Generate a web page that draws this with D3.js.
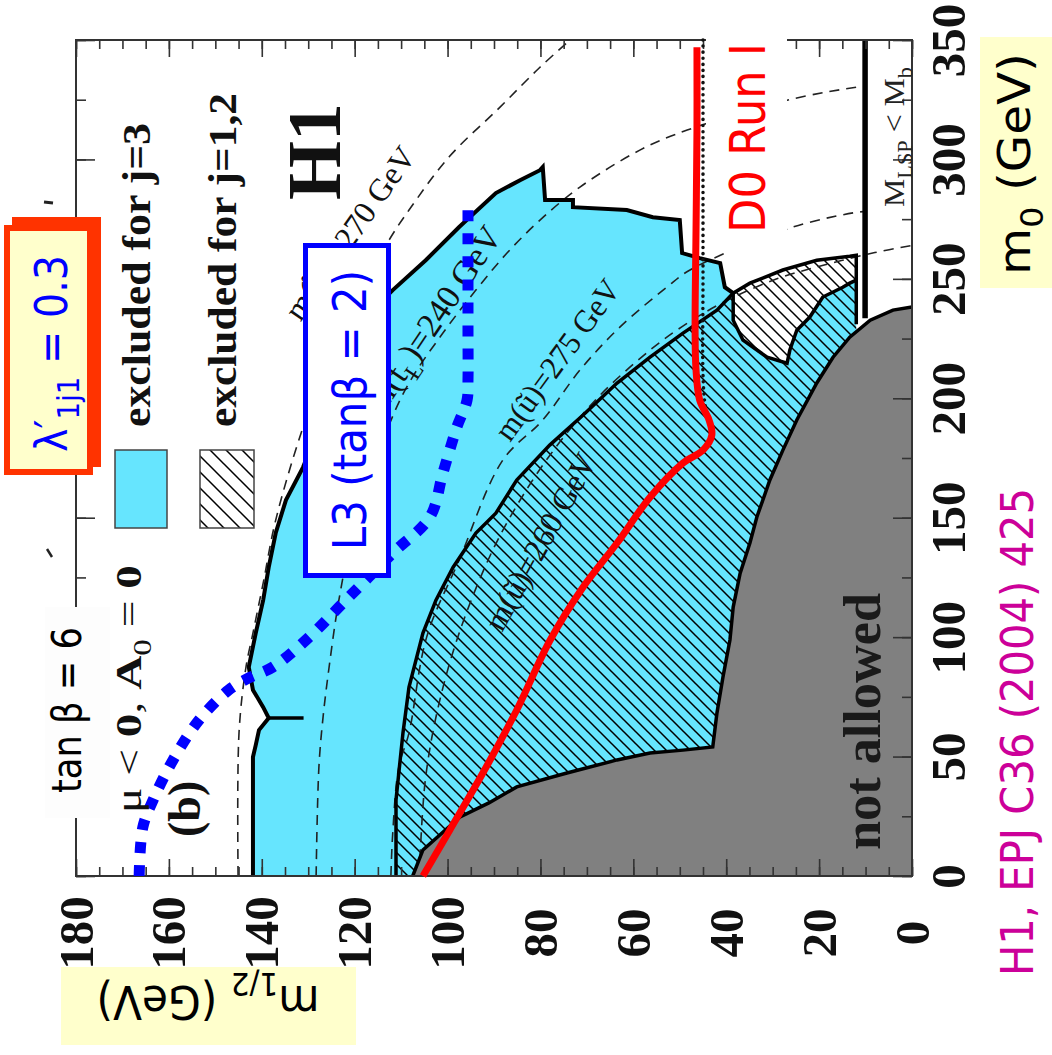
<!DOCTYPE html>
<html><head><meta charset="utf-8">
<script src="https://cdn.jsdelivr.net/npm/d3@7"></script>
<style>body{margin:0;background:#fff}svg{display:block}</style>
</head><body>
<script>
// ---------- data (m1/2 [GeV], m0 [GeV]) ----------
const m12Ticks = [0,20,40,60,80,100,120,140,160,180];
const m0Ticks = [0,50,100,150,200,250,300,350];
const m12Minor = d3.range(0,181,5);
const m0Minor = d3.range(0,351,25);

const notAllowed = [[107.5,0],[105.3,10.9],[97.3,24.7],[91.1,30.6],[85.1,37.3],[74.3,43.1],[63.5,48.6],[56.4,51.5],[49.3,52.7],[42.9,54.0],[42.0,68.2],[40.7,83.3],[39.2,98.8],[38.5,112.6],[37.0,126.8],[34.9,139.4],[33.4,150.3],[30.6,165.8],[27.8,178.3],[24.8,190.9],[20.5,206.4],[17.0,217.2],[13.4,225.6],[9.0,232.7],[4.1,236.9],[0,238.2]];

const excludedJ3 = [[141.9,0],[141.9,49.8],[141.3,54.8],[140.6,61.1],[138.5,66.1],[139.7,70.7],[141.9,77.9],[142.8,87.5],[141.3,101.7],[139.7,115.5],[138.5,129.3],[137.0,143.6],[134.8,157.4],[131.1,171.2],[126.8,192.1],[122.5,213.1],[117.6,234.0],[111.8,245.3],[104.7,257.8],[97.5,271.7],[89.6,285.9],[84.4,291.3],[80.1,295.5],[79.5,296.8],[79.0,283.0],[73.0,283.0],[73.0,280.0],[61.4,278.8],[55.8,275.8],[50.0,274.6],[49.5,260.8],[45.7,258.7],[41.3,256.6],[40.3,246.5],[38.5,244.0]];

const onlyJ12Lower = [[38.5,244.0],[38.5,232.7],[36.4,224.4],[31.2,217.2],[26.9,214.7],[26.3,220.2],[24.8,228.5],[22.0,234.0],[19.2,242.4],[14.9,246.5],[13.4,248.2],[12.0,249.5]];

const excludedJ12 = [[111.1,0],[111.1,31.8],[109.6,59.9],[108.3,79.1],[105.3,101.7],[102.5,115.5],[98.8,129.3],[93.9,143.6],[89.6,151.9],[85.1,165.8],[78.0,180.4],[70.8,193.0],[63.5,206.4],[56.4,217.2],[49.3,227.3],[42.0,236.9],[38.5,244.0],[34.9,248.2],[27.8,253.7],[20.5,257.8],[13.4,259.5],[12.0,259.9],[12.0,231.0]];

const spike = [[138.5,66.1],[131.0,66.1]];
const lspLine = [[10.1,350],[10.1,233.5]];

const contour270 = [[145.1,0],[144.9,60],[143.4,87.5],[141.9,101.7],[139.7,122.6],[137.0,149.0],[131.1,187.9],[123.2,228.5],[112.6,266.2],[108.3,278.8],[99.7,301.0],[88.7,321.9],[80.1,338.6],[73.6,350]];
const contour240 = [[128.3,0],[127.7,45.6],[126.8,66.6],[125.5,87.5],[123.4,115.5],[120.4,143.6],[113.3,185.4],[108.3,206.4],[101.0,227.3],[93.9,245.3],[87.2,260.8],[80.1,274.6],[71.5,288.4],[58.6,303.9],[48.4,312.3],[26.9,324.8],[11.8,330.3],[10.1,330.6]];
const contour275 = [[112.2,0],[111.8,18.0],[110.5,45.6],[108.3,59.9],[104.5,100],[97.5,132.3],[88.1,174.1],[79.5,190.9],[71.5,211.8],[62.9,229.8],[52.8,246.5],[47.8,253.7],[25.6,271.7],[11.8,277.9],[10.1,278.2]];
const contour260 = [[106.1,0],[104.8,40],[102.1,70],[97.8,100],[91.8,130],[86.6,150],[78.4,175],[67.8,200],[56.5,220],[49.5,230],[40.8,240],[29.1,250],[18.5,256],[8,261],[0,264]];

const d0RunI = [[105.3,0],[99.5,19.3],[92.4,43.1],[85.1,69.5],[77.9,98.8],[70.8,121.0],[63.5,139.4],[56.4,158.6],[49.3,172.9],[45.0,178.3],[43.1,184.6],[43.7,190.9],[45.7,199.2],[46.5,211.8],[46.7,228.5],[46.5,270.4],[46.3,312.3],[46.3,347.0]];
const d0Dotted = [[45.0,350],[45.0,300],[45.0,250],[45.0,210],[44.6,198],[43.8,190]];
const l3Limit = [[166.4,0],[165.6,20.5],[163.4,31.8],[159.1,48.6],[153.5,65.3],[147.1,77.9],[142.8,82.9],[137.6,87.5],[129.8,100.0],[122.5,114.3],[111.8,135.2],[103.8,150.3],[101.0,168.7],[98.0,187.9],[95.8,199.2],[95.6,207.6],[95.6,228.5],[95.6,278.8]];

// ---------- layout ----------
const W = 1052, H = 1055;
const x = d3.scaleLinear().domain([0,180]).range([912,76]);   // m1/2
const y = d3.scaleLinear().domain([0,350]).range([876,40]);   // m0
const CYAN = '#66e5fe', GRAY = '#808080';
const SERIF = '"Liberation Serif","Times New Roman",serif';
const COMIC = '"DejaVu Sans",sans-serif';

const svg = d3.select('body').append('svg').attr('width',W).attr('height',H);
const defs = svg.append('defs');
defs.append('clipPath').attr('id','frame').append('rect')
  .attr('x',76).attr('y',40).attr('width',836).attr('height',836);
const hp = defs.append('pattern').attr('id','hatch').attr('patternUnits','userSpaceOnUse')
  .attr('width',12).attr('height',12);
hp.append('path').attr('d','M-1,-1L13,13M11,-1L13,1M-1,11L1,13').attr('stroke','#000').attr('stroke-width',1.5);
const hp2 = defs.append('pattern').attr('id','hatchLeg').attr('patternUnits','userSpaceOnUse')
  .attr('width',16).attr('height',16);
hp2.append('path').attr('d','M-1,-1L17,17M15,-1L17,1M-1,15L1,17').attr('stroke','#000').attr('stroke-width',1.5);

const lin = d3.line().x(d=>x(d[0])).y(d=>y(d[1]));
const smooth = d3.line().x(d=>x(d[0])).y(d=>y(d[1])).curve(d3.curveCatmullRom.alpha(0.5));

const plot = svg.append('g').attr('clip-path','url(#frame)');
// cyan j=3 exclusion
plot.append('path').attr('d', lin(excludedJ3.concat(onlyJ12Lower.slice(1), [[12.0,0]])) + 'Z').attr('fill',CYAN);
// hatched j=1,2 exclusion
plot.append('path').attr('d', lin(excludedJ12.concat([[12.0,0]])) + 'Z').attr('fill','url(#hatch)');
// dashed mass contours
[contour270, contour240, contour275, contour260].forEach(c=>{
  plot.append('path').attr('d', smooth(c)).attr('fill','none').attr('stroke','#222')
    .attr('stroke-width',1.6).attr('stroke-dasharray','10,7');
});
// not allowed
plot.append('path').attr('d', lin(notAllowed.concat([[0,0]])) + 'Z').attr('fill',GRAY);
// outlines
const outl = (d,w)=>plot.append('path').attr('d',lin(d)).attr('fill','none').attr('stroke','#000')
  .attr('stroke-width',w).attr('stroke-linejoin','miter');
outl(excludedJ3,4); outl(onlyJ12Lower,3.5); outl(excludedJ12,3.5); outl(notAllowed,3.5);
outl(spike,3.5);
plot.append('path').attr('d',lin(lspLine)).attr('stroke','#000').attr('stroke-width',5.5);

// ---------- frame & axes ----------
svg.append('rect').attr('x',76).attr('y',40).attr('width',836).attr('height',836)
  .attr('fill','none').attr('stroke','#333').attr('stroke-width',2);
function axisG(axis, tx, ty){
  const g = svg.append('g').attr('transform',`translate(${tx},${ty})`).call(axis);
  g.select('.domain').remove();
  g.selectAll('line').attr('stroke','#333').attr('stroke-width',1.6);
  g.attr('font-family',SERIF).attr('font-size',49).attr('font-weight','bold');
  return g;
}
axisG(d3.axisBottom(x).tickValues(m12Minor).tickSize(-9).tickFormat(''),0,876);
axisG(d3.axisTop(x).tickValues(m12Minor).tickSize(-9).tickFormat(''),0,40);
axisG(d3.axisTop(x).tickValues(m12Ticks).tickSize(-17).tickFormat(''),0,40);
axisG(d3.axisLeft(y).tickValues(m0Minor).tickSize(-10).tickFormat(''),76,0);
axisG(d3.axisLeft(y).tickValues(m0Ticks).tickSize(-19).tickFormat(''),76,0);
axisG(d3.axisRight(y).tickValues(m0Minor).tickSize(-10).tickFormat(''),912,0);
const gb = axisG(d3.axisBottom(x).tickValues(m12Ticks).tickSize(-17),0,876);
gb.selectAll('text').attr('x',0).attr('y',0).attr('dy',0).attr('fill','#111')
  .attr('text-anchor','middle').attr('transform','translate(16,57) rotate(-90)');
const gr = axisG(d3.axisRight(y).tickValues(m0Ticks).tickSize(-19),912,0);
gr.selectAll('text').attr('x',0).attr('y',0).attr('dy',0).attr('fill','#111')
  .attr('text-anchor','middle').attr('transform','translate(53,0) rotate(-90)');

// ---------- text helper (rotated, with subscripts) ----------
function subText(tx,ty,ang,opts){
  const t = svg.append('text').attr('transform',`translate(${tx},${ty}) rotate(${ang})`)
    .attr('font-family',opts.family||SERIF).attr('font-size',opts.size)
    .attr('font-weight',opts.weight||'normal').attr('fill',opts.fill||'#111')
    .attr('text-anchor',opts.anchor||'start');
  if(opts.len) t.attr('textLength',opts.len).attr('lengthAdjust','spacingAndGlyphs');
  const fs = opts.size; let shift = 0;
  opts.parts.forEach(p=>{
    const s = t.append('tspan').text(p.t);
    const target = p.sub ? fs*0.28 : 0;
    if(target!==shift){ s.attr('dy', target-shift); shift = target; }
    if(p.sub) s.attr('font-size', fs*0.7);
    if(p.w) s.attr('font-weight',p.w);
  });
  return t;
}
// contour labels
subText(417,156,-55,{size:32,anchor:'end',parts:[{t:'m(t\u0303'},{t:'L',sub:1},{t:')=270 GeV'}]});
subText(503,236,-56,{size:34,anchor:'end',parts:[{t:'m(t\u0303'},{t:'L',sub:1},{t:')=240 GeV'}]});
subText(510,443,-54,{size:32,len:190,parts:[{t:'m(\u0169)=275 GeV'}]});
subText(502,633,-61,{size:32,len:197,parts:[{t:'m(\u0169)=260 GeV'}]});

// ---------- lines ----------
svg.append('rect').attr('x',706).attr('y',30).attr('width',81).attr('height',222).attr('fill','#fff');
svg.append('path').attr('d',smooth(d0Dotted)).attr('fill','none').attr('stroke','#111')
  .attr('stroke-width',3.5).attr('stroke-dasharray','0.1,6').attr('stroke-linecap','round');
svg.append('path').attr('d',smooth(d0RunI)).attr('fill','none').attr('stroke','#ff0000')
  .attr('stroke-width',7).attr('stroke-linejoin','round');
svg.append('path').attr('d',smooth(l3Limit)).attr('fill','none').attr('stroke','#0000ff')
  .attr('stroke-width',11).attr('stroke-dasharray','11,12');

// ---------- legend and annotations ----------
svg.append('rect').attr('x',115).attr('y',450).attr('width',52).attr('height',78)
  .attr('fill',CYAN).attr('stroke','#444').attr('stroke-width',1.5);
svg.append('rect').attr('x',200).attr('y',450).attr('width',54).attr('height',78)
  .attr('fill','#fff').attr('stroke','none');
svg.append('rect').attr('x',200).attr('y',450).attr('width',54).attr('height',78)
  .attr('fill','url(#hatchLeg)').attr('stroke','#444').attr('stroke-width',1.5);
subText(150,427,-90,{size:40,weight:'bold',len:304,parts:[{t:'excluded for j=3'}]});
subText(236,427,-90,{size:40,weight:'bold',len:334,parts:[{t:'excluded for j=1,2'}]});
subText(340,200,-90,{size:76,weight:'bold',parts:[{t:'H1'}]});
subText(200,837,-90,{size:46,weight:'bold',parts:[{t:'(b)'}]});
subText(141,813,-90,{size:36,len:248,parts:[{t:'\u03bc < '},{t:'0',w:'bold'},{t:', '},{t:'A',w:'bold'},{t:'0',sub:1},{t:' = '},{t:'0',w:'bold'}]});
svg.append('rect').attr('x',45).attr('y',607).attr('width',65).attr('height',211).attr('fill','#fdfdfd');
subText(81,793,-90,{size:40,family:COMIC,len:166,fill:'#000',parts:[{t:'tan \u03b2 = 6'}]});
subText(904,207,-90,{size:29,len:140,fill:'#222',parts:[{t:'M'},{t:'LSP',sub:1},{t:' < M'},{t:'b',sub:1}]});
subText(880,850,-90,{size:52,weight:'bold',len:257,fill:'#1a1a1a',parts:[{t:'not allowed'}]});
// stray marks
svg.append('path').attr('d','M47,549L52,557').attr('stroke','#222').attr('stroke-width',2.5);
svg.append('path').attr('d','M44,202L53,203').attr('stroke','#222').attr('stroke-width',3);

// L3 box
svg.append('rect').attr('x',305.5).attr('y',245.5).attr('width',83).attr('height',330)
  .attr('fill','#fff').attr('stroke','#0000ff').attr('stroke-width',5);
subText(366,550,-90,{size:46,family:COMIC,len:280,fill:'#0000ff',parts:[{t:'L3 (tan\u03b2 = 2)'}]});
// D0 label
subText(765,233,-90,{size:50,family:COMIC,len:190,fill:'#ff0000',parts:[{t:'D0 Run I'}]});

// lambda box
svg.append('rect').attr('x',12).attr('y',217).attr('width',89).attr('height',250).attr('fill','#ff3300');
svg.append('rect').attr('x',4).attr('y',225).attr('width',89).attr('height',250).attr('fill','#ff3300');
svg.append('rect').attr('x',10).attr('y',231).attr('width',77).attr('height',238).attr('fill','#ffffcc');
subText(67,452,-90,{size:44,family:COMIC,len:197,fill:'#0000ff',parts:[{t:'\u03bb\u2032'},{t:'1j1',sub:1},{t:' = 0.3'}]});

// axis titles
svg.append('rect').attr('x',980).attr('y',37).attr('width',72).attr('height',251).attr('fill','#ffffcc');
subText(1030,275,-90,{size:45,family:COMIC,len:222,fill:'#000',parts:[{t:'m'},{t:'0',sub:1},{t:' (GeV)'}]});
svg.append('rect').attr('x',61).attr('y',967).attr('width',295).attr('height',78).attr('fill','#ffffcc');
subText(208,986,180,{size:46,family:COMIC,len:223,anchor:'middle',fill:'#000',parts:[{t:'m'},{t:'1/2',sub:1},{t:' (GeV)'}]});

// reference
subText(1033,976,-90,{size:44,family:COMIC,len:488,fill:'#cc0099',parts:[{t:'H1, EPJ C36 (2004) 425'}]});
</script>
</body></html>
